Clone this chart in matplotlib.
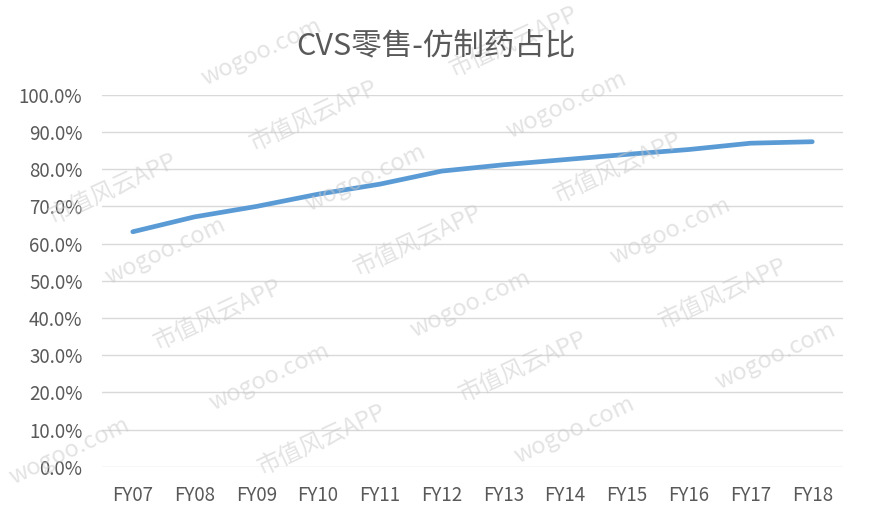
import matplotlib
matplotlib.use("Agg")
import matplotlib.pyplot as plt
from matplotlib.ticker import PercentFormatter

plt.rcParams['font.family'] = ['Noto Sans CJK SC', 'DejaVu Sans']

# data
years = ["FY07", "FY08", "FY09", "FY10", "FY11", "FY12",
         "FY13", "FY14", "FY15", "FY16", "FY17", "FY18"]
generic_share = [0.632, 0.672, 0.700, 0.733, 0.760, 0.795,
                 0.812, 0.826, 0.840, 0.853, 0.870, 0.874]
y_ticks = [i / 10 for i in range(11)]

fig = plt.figure(figsize=(8.71, 5.24), dpi=100)
ax = fig.add_axes([0.117, 0.109, 0.851, 0.710])

x = range(len(years))
ax.plot(x, generic_share, color="#5B9BD5", linewidth=3.4,
        solid_capstyle="round", zorder=3)

ax.set_xlim(-0.5, len(years) - 0.5)
ax.set_ylim(0, 1)
ax.set_yticks(y_ticks)
ax.yaxis.set_major_formatter(PercentFormatter(1.0, decimals=1))
ax.set_xticks(list(x))
ax.set_xticklabels(years)

ax.grid(axis="y", color="#D9D9D9", linewidth=1.0)
ax.set_axisbelow(True)
for s in ax.spines.values():
    s.set_visible(False)
ax.tick_params(length=0, labelsize=13.5, colors="#595959")
ax.tick_params(axis="x", pad=13)
ax.tick_params(axis="y", pad=14)

fig.text(0.5, 0.912, "CVS零售-仿制药占比", ha="center", va="center",
         fontsize=22, color="#595959")

# watermark tiles (drop the ones that would run off the edge)
marks = ["wogoo.com", "市值风云APP"]
wm = []
for row in range(-2, 9):
    for col in range(-1, 6):
        px = col * 0.29 + row * 0.06 - 0.05
        py = 1.0 - row * 0.12 + col * 0.02
        wm.append(fig.text(px, py, marks[(row + col) % 2], rotation=25,
                           fontsize=17, color="#C8C8C8", alpha=0.5,
                           ha="center", va="center", zorder=0))
fig.canvas.draw()
r = fig.canvas.get_renderer()
W, H = fig.bbox.width, fig.bbox.height
for t in wm:
    bb = t.get_window_extent(r)
    if bb.x0 < 0 or bb.y0 < 0 or bb.x1 > W or bb.y1 > H:
        t.remove()

fig.savefig("out.png", dpi=100)
